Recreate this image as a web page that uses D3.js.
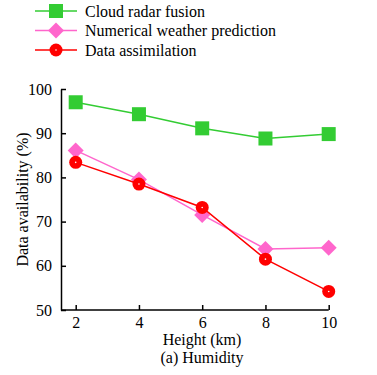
<!DOCTYPE html>
<html>
<head>
<meta charset="utf-8">
<script src="https://cdn.jsdelivr.net/npm/d3@7"></script>
<style>
  body { margin: 0; background: #fff; }
  svg text { font-family: "Liberation Serif", "Times New Roman", Times, serif !important; fill: #000; font-size: 16px; }
</style>
</head>
<body>
<div id="chart"></div>
<script>
const heights = [2, 4, 6, 8, 10];
const cloudRadar = [97.0, 94.3, 91.1, 88.8, 89.8];
const nwp = [86.1, 79.5, 71.5, 63.8, 64.1];
const assimilation = [83.4, 78.5, 73.2, 61.5, 54.2];
const yTicks = [50, 60, 70, 80, 90, 100];

const series = [
  {name: "Cloud radar fusion", values: cloudRadar, color: "#33cc33", marker: "square"},
  {name: "Numerical weather prediction", values: nwp, color: "#ff66cc", marker: "diamond"},
  {name: "Data assimilation", values: assimilation, color: "#ff0000", marker: "circle"}
];

const W = 377, H = 375;
const svg = d3.select("#chart").append("svg").attr("width", W).attr("height", H);

const x = d3.scaleLinear().domain([2, 10]).range([75.7, 328.7]);
const y = d3.scaleLinear().domain([50, 100]).range([310, 89]);
const left = 61, bottom = 310;

// axes (ticks point inward)
const xAxis = svg.append("g").attr("transform", `translate(0,${bottom})`)
  .call(d3.axisBottom(x).tickValues(heights).tickSize(-5).tickSizeOuter(0));
xAxis.select(".domain").attr("d", `M${left},0H${x(10)}`);
const yAxis = svg.append("g").attr("transform", `translate(${left},0)`)
  .call(d3.axisLeft(y).tickValues(yTicks).tickSize(-5).tickPadding(9).tickSizeOuter(0));
svg.selectAll(".domain, .tick line").attr("stroke", "#000").attr("stroke-width", 1.5);
xAxis.selectAll(".tick text").attr("y", 6).attr("dy", "0.75em");

const line = d3.line().x((d, i) => x(heights[i])).y(d => y(d));

function drawMarker(g, type, color) {
  if (type === "square") {
    g.append("rect").attr("x", -7).attr("y", -7).attr("width", 14).attr("height", 14).attr("fill", color);
  } else if (type === "diamond") {
    g.append("path").attr("d", "M0,-8L8,0L0,8L-8,0Z").attr("fill", color);
  } else {
    g.append("circle").attr("r", 6.5).attr("fill", color);
    g.append("circle").attr("r", 0.8).attr("fill", "#fff");
  }
}

series.forEach(s => {
  svg.append("path").datum(s.values).attr("d", line)
    .attr("fill", "none").attr("stroke", s.color).attr("stroke-width", 1.5);
  s.values.forEach((v, i) => {
    const g = svg.append("g").attr("transform", `translate(${x(heights[i])},${y(v)})`);
    drawMarker(g, s.marker, s.color);
  });
});

// legend
const legend = svg.append("g");
series.forEach((s, i) => {
  const ly = 11 + i * 19.5;
  legend.append("line").attr("x1", 35).attr("x2", 77).attr("y1", ly).attr("y2", ly)
    .attr("stroke", s.color).attr("stroke-width", 1.5);
  const g = legend.append("g").attr("transform", `translate(56,${ly})`);
  drawMarker(g, s.marker, s.color);
  legend.append("text").attr("x", 85).attr("y", ly).attr("dy", "0.35em").text(s.name);
});

// labels
svg.append("text").attr("transform", `translate(28,${(89 + 310) / 2}) rotate(-90)`)
  .attr("text-anchor", "middle").text("Data availability (%)");
svg.append("text").attr("x", 202).attr("y", 345).attr("text-anchor", "middle").text("Height (km)");
svg.append("text").attr("x", 202).attr("y", 363).attr("text-anchor", "middle").text("(a) Humidity");
</script>
</body>
</html>
